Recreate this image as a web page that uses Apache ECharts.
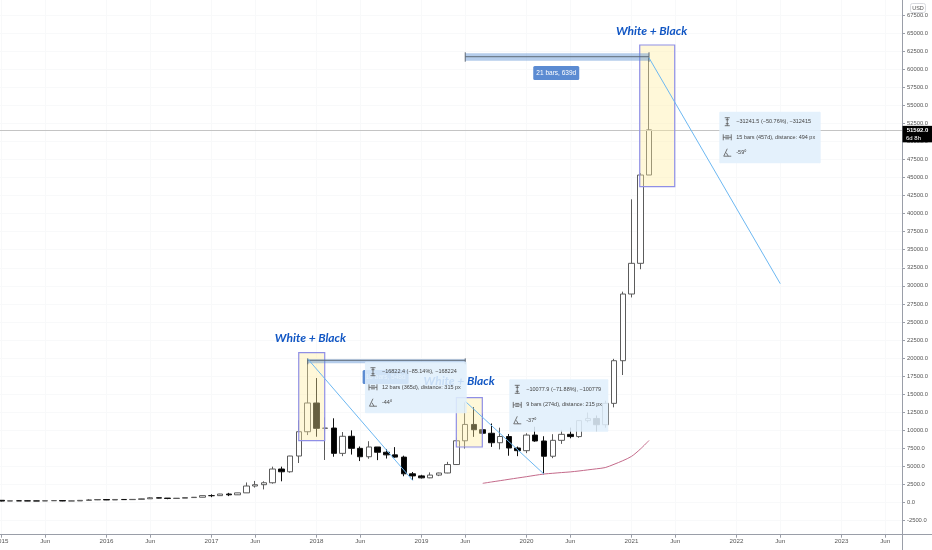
<!DOCTYPE html>
<html>
<head>
<meta charset="utf-8">
<style>html,body{margin:0;padding:0;background:#fff}#c{width:932px;height:550px}</style>
<script src="https://cdn.jsdelivr.net/npm/echarts@6/dist/echarts.min.js"></script>
</head>
<body>
<div id="c"></div>
<script>
// Monthly bars: position in each array = months since Jan 2015
const openPrices = [320,217,254,244,236,230,263,284,230,236,314,377,430,369,437,416,448,530,672,624,575,609,698,745,968,965,1190,1080,1350,2300,2480,2750,4650,4270,6450,9813,13790,10280,10320,6820,9180,7510,6350,7700,6970,6610,6300,3990,3700,3430,3810,4100,5270,8560,10820,10090,9600,8290,9150,7560,7190,9350,8530,6420,8620,9450,9140,11350,11650,10780,13740,19640,28870,33120,45340];
const closePrices = [217,254,244,236,230,263,284,230,236,314,377,430,369,437,416,448,530,672,624,575,609,698,745,968,965,1190,1080,1350,2300,2480,2750,4650,4270,6450,9813,13790,10280,10320,6820,9180,7510,6350,7700,6970,6610,6300,3990,3700,3430,3810,4100,5270,8560,10820,10090,9600,8290,9150,7560,7190,9350,8530,6420,8620,9450,9140,11350,11650,10780,13740,19640,28870,33120,45340,51592];
const lowPrices = [171,212,235,214,228,220,254,199,225,235,305,350,350,366,394,412,443,505,600,470,565,605,680,730,750,920,900,1060,1340,2080,1830,2620,2950,4140,5480,9350,9120,5900,6350,6430,6650,5750,6070,5880,6100,6200,3650,3120,3340,3380,3670,4070,5330,7480,9100,9350,7710,7370,6490,6430,6850,8420,3915,6150,8130,8900,8970,11110,9880,10370,13190,17660,28400,32300,45340];
const highPrices = [320,265,300,260,247,268,316,286,246,335,503,465,462,448,440,470,550,780,705,627,625,735,758,985,1150,1215,1350,1360,2790,3000,2950,4980,4980,6470,11400,19860,17240,11800,11670,9770,10000,7770,8500,7500,7400,7680,6500,4240,3850,4180,4140,5640,9000,13880,13220,12330,10950,10370,9500,7760,9600,10500,9190,9470,10070,10380,11400,12470,12060,14100,19900,29200,41980,45600,61556];

// Red moving-average line
const maMonths = [55,56,57,58,59,60,61,62,63,64,65,66,67,68,69,70,71,72,73,74];
const maValues = [2670,2860,3040,3230,3410,3590,3780,3960,4060,4160,4250,4380,4530,4680,4850,5300,5800,6400,7400,8600];

// Axis ticks
const priceTicks = [-2500,0,2500,5000,7500,10000,12500,15000,17500,20000,22500,25000,27500,30000,32500,35000,37500,40000,42500,45000,47500,50000,52500,55000,57500,60000,62500,65000,67500];
const monthTicks = [0,5,12,17,24,29,36,41,48,53,60,65,72,77,84,89,96,101];
const monthTickLabels = ['2015','Jun','2016','Jun','2017','Jun','2018','Jun','2019','Jun','2020','Jun','2021','Jun','2022','Jun','2023','Jun'];
const lastPrice = 51592;
const lastPriceLabel = '51592.0';
const countdownLabel = '6d 8h';

// Drawing-tool annotations, in month / price units
const zoneBoxes = [[33.97,20747,36.94,8567],[51.98,14519,54.95,7696],[72.94,63336,76.94,43723]];
const trendLines = [[35,19891,47,3069],[53,14022,62,3944],[74,61556,89,30305]];
const rulerBands = [[35,19834,53,19280,19700],[53,62190,74,61165,61716]];
const rulerLabels = [[43.9,17370,'18 bars, 548d'],[63.4,59460,'21 bars, 639d']];
const noteTitles = [[35.31,22782,'White + Black'],[52.3,16830,'White + Black'],[74.29,65273,'White + Black']];
const panelBoxes = [[41.54,19502,53.17,12360],[58.03,17066,69.35,9813],[82.03,54104,93.62,46962]];
const panelPriceText = ['\u221216822.4 (\u221285.14%), \u2212168224','\u221210077.9 (\u221271.88%), \u2212100779','\u221231241.5 (\u221250.76%), \u2212312415'];
const panelBarsText = ['12 bars (365d), distance: 315 px','9 bars (274d), distance: 215 px','15 bars (457d), distance: 494 px'];
const panelAngleText = ['-44\u00ba','-37\u00ba','-59\u00ba'];

const NARROW = '"Liberation Sans",sans-serif';
const chart = echarts.init(document.getElementById('c'), null, {renderer:'canvas'});

function ln(x1,y1,x2,y2,stroke,w){
  return {type:'line',shape:{x1,y1,x2,y2},style:{stroke:stroke||'#555',lineWidth:w||0.8,fill:null},silent:true};
}
function txt(x,y,text,extra){
  return {type:'text',x,y,style:Object.assign({text,font:'5.5px '+NARROW,fill:'#444',textAlign:'left',textVerticalAlign:'middle'},extra||{}),silent:true};
}

const option = {
  animation:false,
  backgroundColor:'#ffffff',
  grid:{left:0,top:0,width:902,height:534.7,containLabel:false,outerBoundsMode:'none'},
  xAxis:{
    type:'value',min:-0.171,max:102.914,
    axisLine:{onZero:false,lineStyle:{color:'#9a9ea8',width:1}},
    axisTick:{show:true,length:3,lineStyle:{color:'#9a9ea8'},customValues:monthTicks},
    axisLabel:{color:'#555',fontSize:6.2,fontFamily:NARROW,margin:4,hideOverlap:false,showMinLabel:true,showMaxLabel:true,
      customValues:monthTicks,
      formatter:v=>monthTickLabels[monthTicks.indexOf(Math.round(v))]},
    splitLine:{show:true,lineStyle:{color:'#f8f9fa',width:1}}
  },
  yAxis:{
    type:'value',position:'right',min:-4440,max:69565,scale:false,
    axisLine:{show:true,onZero:false,lineStyle:{color:'#9a9ea8',width:1}},
    axisTick:{show:true,length:3,lineStyle:{color:'#9a9ea8'},customValues:priceTicks},
    axisLabel:{color:'#555',fontSize:5.8,fontFamily:NARROW,margin:5,align:'left',customValues:priceTicks,
      formatter:v=>v.toFixed(1)},
    splitLine:{show:true,lineStyle:{color:'#f8f9fa',width:1}}
  },
  graphic:[
    {type:'line',shape:{x1:902.5,y1:534,x2:902.5,y2:550},style:{stroke:'#9a9ea8',lineWidth:1},silent:true},
    {type:'line',shape:{x1:902,y1:534.5,x2:932,y2:534.5},style:{stroke:'#9a9ea8',lineWidth:1},silent:true},
    {type:'rect',shape:{x:910.5,y:3.5,width:15,height:9,r:2},style:{fill:'#fff',stroke:'#d8dadf',lineWidth:1},silent:true,z:100},
    {type:'text',x:918,y:8,style:{text:'USD',font:'5.5px '+NARROW,fill:'#555',textAlign:'center',textVerticalAlign:'middle'},silent:true,z:101}
  ],
  series:[
    {
      type:'custom',name:'titlesLow',z:3,silent:true,clip:false,
      encode:{x:0,y:1},data:noteTitles,
      renderItem(p,api){
        const d=noteTitles[p.dataIndex];const c=api.coord([d[0],d[1]]);
        return {type:'text',x:c[0],y:c[1],style:{text:d[2],font:'italic 700 12px Lato,sans-serif',fill:'#1257c4',textAlign:'center',textVerticalAlign:'middle'}};
      }
    },
    {
      type:'candlestick',name:'BTCUSD',z:4,barWidth:6,silent:true,
      encode:{x:0,y:[1,2,3,4]},
      data:openPrices.map((o,i)=>[i,o,closePrices[i],lowPrices[i],highPrices[i]]),
      itemStyle:{color:'#ffffff',color0:'#000000',borderColor:'#5c5c5c',borderColor0:'#111111',borderWidth:1},
      markLine:{silent:true,symbol:'none',label:{show:false},lineStyle:{color:'#c4c4c4',type:'solid',width:1},animation:false,data:[{yAxis:lastPrice}]}
    },
    {
      type:'line',name:'MA',z:5,data:maMonths.map((m,i)=>[m,maValues[i]]),showSymbol:false,smooth:0.3,silent:true,
      lineStyle:{color:'#c46a8a',width:1}
    },
    {
      type:'custom',name:'zones',z:6,silent:true,clip:false,encode:{x:[0,2],y:[1,3]},data:zoneBoxes,
      renderItem(p,api){
        const d=zoneBoxes[p.dataIndex];const a=api.coord([d[0],d[1]]),b=api.coord([d[2],d[3]]);
        return {type:'rect',shape:{x:a[0],y:a[1],width:b[0]-a[0],height:b[1]-a[1]},
          style:{fill:'rgba(255,238,160,0.4)',stroke:'#8f8fe6',lineWidth:1.2}};
      }
    },
    {
      type:'custom',name:'rulers',z:7,silent:true,clip:false,encode:{x:[0,2],y:[1,3]},data:rulerBands,
      renderItem(p,api){
        const d=rulerBands[p.dataIndex];const a=api.coord([d[0],d[1]]),b=api.coord([d[2],d[3]]),m=api.coord([d[0],d[4]]);
        return {type:'group',children:[
          {type:'rect',shape:{x:a[0],y:a[1],width:b[0]-a[0],height:b[1]-a[1]},style:{fill:'rgba(90,145,210,0.45)'}},
          ln(a[0],m[1],b[0],m[1],'#5f6b78',1),
          ln(a[0],a[1]-1,a[0],b[1]+1,'#5f6b78',1),
          ln(b[0],a[1]-1,b[0],b[1]+1,'#5f6b78',1)
        ]};
      }
    },
    {
      type:'custom',name:'trends',z:8,silent:true,clip:false,encode:{x:[0,2],y:[1,3]},data:trendLines,
      renderItem(p,api){
        const d=trendLines[p.dataIndex];const a=api.coord([d[0],d[1]]),b=api.coord([d[2],d[3]]);
        return ln(a[0],a[1],b[0],b[1],'#6db8f2',1);
      }
    },
    {
      type:'custom',name:'rulerLabels',z:9,silent:true,clip:false,encode:{x:0,y:1},data:rulerLabels,
      renderItem(p,api){
        const d=rulerLabels[p.dataIndex];const c=api.coord([d[0],d[1]]);
        return {type:'group',children:[
          {type:'rect',shape:{x:c[0]-23,y:c[1]-7,width:46,height:14,r:1.5},style:{fill:'#5b8bd2'}},
          txt(c[0],c[1],d[2],{fill:'#fff',textAlign:'center',font:'6.5px '+NARROW})
        ]};
      }
    },
    {
      type:'custom',name:'panels',z:10,silent:true,clip:false,encode:{x:[0,2],y:[1,3]},data:panelBoxes,
      renderItem(p,api){
        const i=p.dataIndex,d=panelBoxes[i];const a=api.coord([d[0],d[1]]),b=api.coord([d[2],d[3]]);
        const x=a[0],y=a[1],ix=x+8,tx=x+17,y1=y+10,y2=y+25.6,y3=y+41;
        return {type:'group',children:[
          {type:'rect',shape:{x,y,width:b[0]-a[0],height:b[1]-a[1],r:1},style:{fill:'rgba(224,239,252,0.88)'}},
          ln(ix-2.5,y1-4,ix+2.5,y1-4),ln(ix-2.5,y1+4,ix+2.5,y1+4),ln(ix,y1-4,ix,y1+4),ln(ix-1.5,y1-2,ix+1.5,y1-2),ln(ix-1.5,y1+2,ix+1.5,y1+2),
          ln(ix-4,y2-3,ix-4,y2+3),ln(ix+4,y2-3,ix+4,y2+3),ln(ix-4,y2,ix+4,y2),ln(ix-2,y2-1.5,ix+2,y2-1.5),ln(ix-2,y2+1.5,ix+2,y2+1.5),
          ln(ix-3.5,y3+3.5,ix+4,y3+3.5),ln(ix-3.5,y3+3.5,ix,y3-4),ln(ix-1,y3,ix+1,y3+3.5),
          txt(tx,y1,panelPriceText[i]),txt(tx,y2,panelBarsText[i]),txt(tx,y3,panelAngleText[i])
        ]};
      }
    },
    {
      type:'custom',name:'priceTag',z:20,silent:true,clip:false,encode:{x:0,y:1},data:[[103,lastPrice]],
      renderItem(p,api){
        const c=api.coord([102.914,lastPrice]);
        return {type:'group',children:[
          {type:'rect',shape:{x:c[0]+0.5,y:c[1]-4,width:30,height:16.5},style:{fill:'#000'}},
          txt(c[0]+15.5,c[1]+0.3,lastPriceLabel,{fill:'#fff',textAlign:'center',font:'bold 6px '+NARROW}),
          txt(c[0]+4,c[1]+8,countdownLabel,{fill:'#fff',textAlign:'left',font:'6px '+NARROW})
        ]};
      }
    }
  ]
};
chart.setOption(option);
</script>
</body>
</html>
